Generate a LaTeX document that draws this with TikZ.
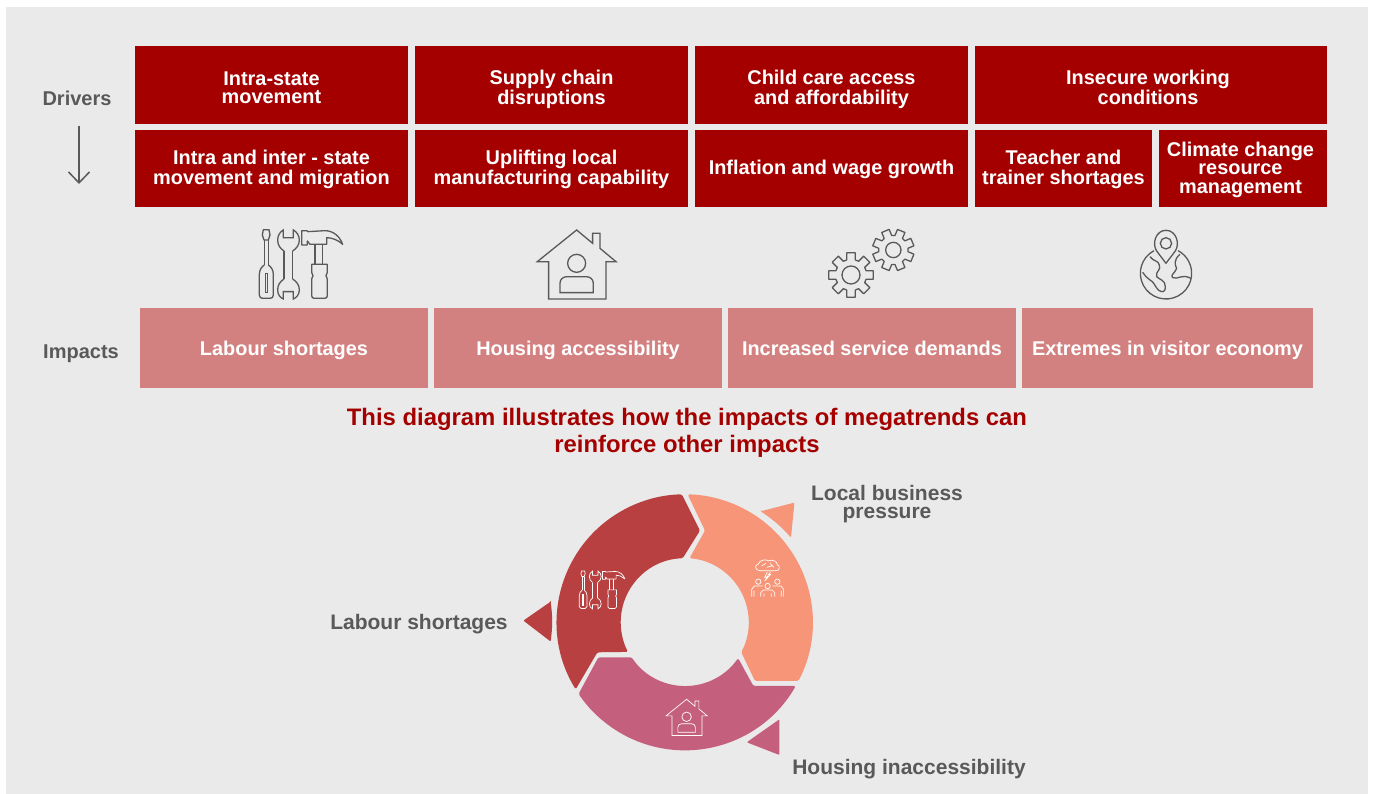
\documentclass[tikz,border=0pt]{standalone}
\usepackage{fontspec}
\setmainfont{Liberation Sans}
\usetikzlibrary{arrows.meta,calc}
\definecolor{bgc}{HTML}{EAEAEA}
\definecolor{drv}{HTML}{A50000}
\definecolor{imp}{HTML}{D38180}
\definecolor{gry}{HTML}{595959}
\definecolor{ringr}{HTML}{B94040}
\definecolor{ringo}{HTML}{F79578}
\definecolor{ringp}{HTML}{C55F7E}
\newcommand{\mst}{\rule[-4.5pt]{0pt}{13.5pt}}
% #1 fill, #2 name, #3 x, #4 y, #5 w, #6 h, #7 text shift, #8 text
\newcommand{\mybox}[8]{%
  \node[boxshape,fill=#1,minimum width=#5,minimum height=#6] (#2) at (#3,#4) {};
  \node[boxtext,#7] (#2t) at (#2.center) {#8};
}
\tikzset{
  x=1pt,y=1pt,
  boxshape/.style={inner sep=0pt,anchor=center},
  boxtext/.style={text=white,inner sep=0pt,anchor=center,align=center,font=\fontsize{19.9}{18.4}\selectfont\bfseries},
  lbl/.style={text=gry,inner sep=0pt,align=center,font=\fontsize{21}{18}\selectfont\bfseries},
  sidelbl/.style={text=gry,inner sep=0pt,align=center,font=\fontsize{20}{18}\selectfont\bfseries},
  ttl/.style={text=drv,inner sep=0pt,align=center,font=\fontsize{23.86}{27}\selectfont\bfseries},
  toolsicon/.pic={
    \draw[pic actions,line join=round] (100,-44)--(117,-44)--(120,-60)--(115,-75)--(102,-75)--(97,-60)--cycle;
    \draw[pic actions] (103,-75)--(103,-150) (115,-75)--(115,-150);
    \draw[pic actions] (103,-150) .. controls (95,-155) and (88,-165) .. (88,-178) -- (88,-240) .. controls (88,-247) and (92,-250) .. (98,-250) -- (120,-250) .. controls (126,-250) and (130,-247) .. (130,-240) -- (130,-178) .. controls (130,-165) and (123,-155) .. (115,-150);
    \draw[pic actions] (106,-175) rectangle (112,-232);
    \draw[pic actions] (162,-108)--(162,-192) (188,-108)--(188,-192);
    \draw[pic actions] (162,-108) .. controls (150,-100) and (143,-90) .. (143,-75) .. controls (143,-62) and (150,-50) .. (160,-45) -- (160,-68) -- (190,-68) -- (190,-45) .. controls (200,-50) and (208,-62) .. (208,-75) .. controls (208,-90) and (200,-100) .. (188,-108);
    \draw[pic actions] (162,-192) .. controls (150,-200) and (143,-210) .. (143,-225) .. controls (143,-238) and (150,-248) .. (160,-252) -- (160,-230) -- (190,-230) -- (190,-252) .. controls (200,-248) and (208,-238) .. (208,-225) .. controls (208,-210) and (200,-200) .. (188,-192);
    \draw[pic actions,line join=round] (215,-47)--(230,-47)--(234,-50)--(285,-47) .. controls (310,-47) and (330,-65) .. (338,-88) .. controls (325,-75) and (305,-68) .. (290,-68) -- (290,-88) -- (240,-88) -- (232,-78) -- (232,-90) -- (215,-90) -- cycle;
    \draw[pic actions] (255,-90)--(255,-148) (277,-90)--(277,-148);
    \draw[pic actions,line join=round] (245,-148)--(292,-148)--(292,-172)--(288,-182)--(292,-192)--(292,-242) .. controls (292,-247) and (289,-250) .. (284,-250) -- (253,-250) .. controls (248,-250) and (245,-247) .. (245,-242) -- (245,-192)--(249,-182)--(245,-172)--cycle;
  },
  houseicon/.pic={
    \draw[pic actions,line join=miter] (922,-140)--(1040,-45)--(1088,-85)--(1088,-55)--(1110,-55)--(1110,-100)--(1158,-140)--(1128,-140)--(1128,-252)--(956,-252)--(956,-140)--cycle;
    \draw[pic actions] (1040,-145) circle[radius=27];
    \draw[pic actions] (990,-233)--(1090,-233)--(1090,-205) .. controls (1090,-192) and (1080,-185) .. (1068,-185) -- (1012,-185) .. controls (1000,-185) and (990,-192) .. (990,-205) -- cycle;
  },
  gearsicon/.pic={
    \draw[pic actions,line join=round,shift={(153,-180)}] (74:47)
      \foreach \a in {90,135,...,405} { -- ({\a-16}:47) -- ({\a-11}:68) -- ({\a+11}:68) -- ({\a+16}:47) } -- cycle;
    \draw[pic actions] (153,-180) circle[radius=27];
    \draw[pic actions,line join=round,shift={(280,-105)}] (51.5:44)
      \foreach \a in {67.5,112.5,...,382.5} { -- ({\a-16}:44) -- ({\a-11}:63) -- ({\a+11}:63) -- ({\a+16}:44) } -- cycle;
    \draw[pic actions] (280,-105) circle[radius=23];
  },
  globeicon/.pic={
    \draw[pic actions] (1062,-107) arc[start angle=118,end angle=422,radius=77];
    \draw[pic actions,line join=round] (1098,-145) -- (1070,-108) .. controls (1055,-85) and (1068,-46) .. (1098,-46) .. controls (1128,-46) and (1141,-85) .. (1126,-108) -- cycle;
    \draw[pic actions] (1098,-85) circle[radius=17];
    \draw[pic actions,line join=round] (1050,-125) .. controls (1060,-140) and (1075,-135) .. (1078,-150) .. controls (1085,-165) and (1065,-170) .. (1070,-185) .. controls (1080,-195) and (1096,-195) .. (1096,-215) .. controls (1096,-235) and (1085,-232) .. (1075,-225) .. controls (1065,-215) and (1062,-200) .. (1050,-195) .. controls (1040,-190) and (1035,-180) .. (1028,-172);
    \draw[pic actions,line join=round] (1140,-118) .. controls (1120,-135) and (1125,-150) .. (1130,-160) .. controls (1125,-175) and (1110,-180) .. (1118,-188) .. controls (1135,-195) and (1145,-175) .. (1172,-190);
  },
}
\begin{document}
\begin{tikzpicture}
\useasboundingbox (0,0) rectangle (1375,794);
\fill[white] (0,0) rectangle (1375,794);
\fill[bgc] (6,0) rectangle (1368,787);

% Drivers row 1
\mybox{drv}{d1}{271.5}{709}{273}{78}{yshift=-5}{\mst Intra-state\\\mst movement}
\mybox{drv}{d2}{551.5}{709}{273}{78}{yshift=-5}{\mst Supply chain\\\mst disruptions}
\mybox{drv}{d3}{831.5}{709}{273}{78}{yshift=-5}{\mst Child care access\\\mst and affordability}
\mybox{drv}{d4}{1151}{709}{352}{78}{yshift=-5,xshift=-3}{\mst Insecure working\\\mst conditions}
% Drivers row 2
\mybox{drv}{e1}{271.5}{625.5}{273}{77}{yshift=-1.5}{\mst Intra and inter - state\\\mst movement and migration}
\mybox{drv}{e2}{551.5}{625.5}{273}{77}{yshift=-1.5}{\mst Uplifting local\\\mst manufacturing capability}
\mybox{drv}{e3}{831.5}{625.5}{273}{77}{yshift=-1.5}{\mst Inflation and wage growth}
\mybox{drv}{e4}{1063.5}{625.5}{177}{77}{yshift=-1.5}{\mst Teacher and\\\mst trainer shortages}
\mybox{drv}{e5}{1243}{625.5}{168}{77}{yshift=-1.5,xshift=-2.5}{\mst Climate change\\\mst resource\\\mst management}
% Impacts
\mybox{imp}{i1}{284}{446}{288}{80}{yshift=-3}{\mst Labour shortages}
\mybox{imp}{i2}{578}{446}{288}{80}{yshift=-3}{\mst Housing accessibility}
\mybox{imp}{i3}{872}{446}{288}{80}{yshift=-3}{\mst Increased service demands}
\mybox{imp}{i4}{1167.5}{446}{291}{80}{yshift=-3}{\mst Extremes in visitor economy}

\node[sidelbl] (ldrv) at (77,693) {\mst Drivers};
\node[sidelbl] (limp) at (81,440) {\mst Impacts};
\coordinate (atop) at (79,668);
\coordinate (atip) at (79,610);
\draw[gry,line width=1.5pt,-{Straight Barb[length=11pt,width=21pt,line width=1.5pt]}] (atop) -- (atip);

\node[ttl] (title) at (687,361) {This diagram illustrates how the impacts of megatrends can\\reinforce other impacts};

% Icons row
\pic[draw=gry,line width=1.3pt,scale=0.3333] (ictools) at (230,579) {toolsicon};
\pic[draw=gry,line width=1.3pt,scale=0.3333] (ichouse) at (230,579) {houseicon};
\pic[draw=gry,line width=1.3pt,scale=0.3333] (icgears) at (800,579) {gearsicon};
\pic[draw=gry,line width=1.3pt,scale=0.3333] (icglobe) at (800,579) {globeicon};

% Ring
\begin{scope}[shift={(684.7,171.7)}]
  \fill[ringr,rounded corners=1.5] (211.6:128) arc[start angle=211.6,end angle=91.3,radius=128] -- (15.3,91.7) -- (-2,64) arc[start angle=91.8,end angle=207.6,radius=64] -- (-87.3,-30) -- cycle;
  \fill[ringo,rounded corners=1.5] (-27.2:128) arc[start angle=-27.2,end angle=88.7,radius=128] -- (20.3,91.7) -- (4.7,64) arc[start angle=85.8,end angle=-28,radius=64] -- (70.3,-58.7) -- cycle;
  \fill[ringp,rounded corners=1.5] (-29.8:128) arc[start angle=-29.8,end angle=-146,radius=128] -- (-86.3,-35) -- (-53,-35) arc[start angle=213.4,end angle=325.8,radius=64] -- (68.7,-63.7) -- cycle;
  % small triangles
  \fill[ringr,rounded corners=1] (-134,20.7) -- (-161.3,1.7) -- (-134,-19.3) to[bend right=7] cycle;
  \fill[ringo,rounded corners=1] (76,111) -- (109.7,119.7) -- (106.3,84.7) to[bend right=7] cycle;
  \fill[ringp,rounded corners=1] (94.7,-97) -- (62,-120) -- (94.7,-132.7) -- cycle;
\end{scope}
\pic[draw=white,line width=0.7pt,scale=0.1822] (h1) at (563.3,231.1) {toolsicon};
\pic[draw=white,line width=0.7pt,scale=0.175] (h2) at (504.6,102.6) {houseicon};

% brain / people icon
\begin{scope}[shift={(510,314)},x=0.3333pt,y=-0.3333pt,draw=white,line width=0.7pt]
  \draw (750,272) .. controls (735,272) and (732,255) .. (745,252) .. controls (748,240) and (770,236) .. (775,243) .. controls (785,236) and (803,245) .. (802,254) .. controls (813,258) and (808,274) .. (797,272) -- cycle;
  \draw (755,258)--(768,250) (780,250)--(792,262) (770,262)--(785,258);
  \draw (772,276)--(764,292)--(772,290)--(764,303)--(782,283)--(774,285)--(782,276);
  \draw (745,305) circle[radius=8] (802,305) circle[radius=8] (773,318) circle[radius=8];
  \draw (725,350)--(725,328)--(733,318)--(758,318) (732,350)--(732,332);
  \draw (821,350)--(821,328)--(813,318)--(788,318) (814,350)--(814,332);
  \draw (752,350)--(752,338)--(760,330)--(786,330)--(794,338)--(794,350) (762,350)--(762,340) (784,350)--(784,340);
\end{scope}

\node[lbl] (l1) at (887,290) {\mst Local business\\\mst pressure};
\node[lbl] (l2) at (419,170) {\mst Labour shortages};
\node[lbl] (l3) at (909,25) {\mst Housing inaccessibility};
\end{tikzpicture}
\end{document}
